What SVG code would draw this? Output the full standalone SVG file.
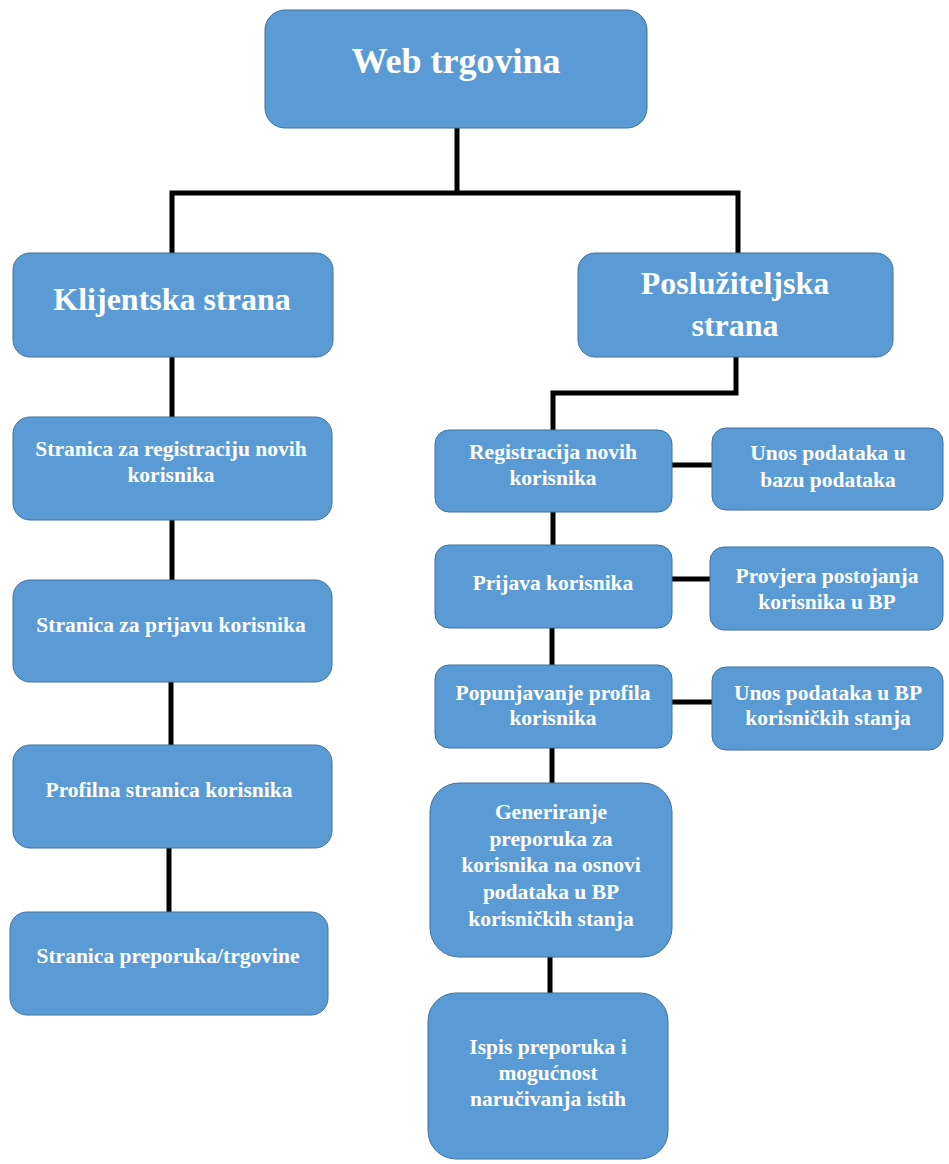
<svg xmlns="http://www.w3.org/2000/svg" width="949" height="1164" viewBox="0 0 949 1164">
<style>
.box{fill:#5B9BD5;stroke:#41719C;stroke-width:1}
.t{font-family:"Liberation Serif","Times New Roman",serif;font-weight:bold;fill:#FFFFFF;text-anchor:middle}
.big{font-size:32px}
.sm{font-size:21.5px}
.ln{stroke:#000;stroke-width:5;fill:none;stroke-linejoin:miter}
</style>
<rect width="949" height="1164" fill="#FFFFFF"/>
<g id="connectors">
<path class="ln" d="M457 128 V193"/>
<path class="ln" d="M172 253 V193 H738 V253"/>
<path class="ln" d="M172 357 V417"/>
<path class="ln" d="M172 520 V580"/>
<path class="ln" d="M171 682 V745"/>
<path class="ln" d="M169 848 V912"/>
<path class="ln" d="M736 357 V393 H553 V430"/>
<path class="ln" d="M672 465 H712"/>
<path class="ln" d="M553 512 V545"/>
<path class="ln" d="M672 579 H710"/>
<path class="ln" d="M552 628 V665"/>
<path class="ln" d="M672 702 H712"/>
<path class="ln" d="M552 748 V783"/>
<path class="ln" d="M550 957 V993"/>
</g>
<g id="web-trgovina">
<rect class="box" x="265" y="10" width="382" height="118" rx="20"/>
<text class="t" x="456" y="73" font-size="36">Web trgovina</text>
</g>
<g id="klijentska-strana">
<rect class="box" x="13" y="253" width="320" height="104" rx="17"/>
<text class="t big" x="172" y="310">Klijentska strana</text>
</g>
<g id="posluziteljska-strana">
<rect class="box" x="578" y="253" width="315" height="104" rx="17"/>
<text class="t big" x="735" y="294">Poslužiteljska</text>
<text class="t big" x="735" y="336">strana</text>
</g>
<g id="stranica-registracija">
<rect class="box" x="13" y="417" width="319" height="103" rx="17"/>
<text class="t sm" x="171" y="456">Stranica za registraciju novih</text>
<text class="t sm" x="171" y="482">korisnika</text>
</g>
<g id="stranica-prijava">
<rect class="box" x="13" y="580" width="319" height="102" rx="17"/>
<text class="t sm" x="171" y="632">Stranica za prijavu korisnika</text>
</g>
<g id="profilna-stranica">
<rect class="box" x="13" y="745" width="319" height="103" rx="17"/>
<text class="t sm" x="169" y="797">Profilna stranica korisnika</text>
</g>
<g id="stranica-preporuka">
<rect class="box" x="10" y="912" width="318" height="103" rx="17"/>
<text class="t sm" x="168" y="963">Stranica preporuka/trgovine</text>
</g>
<g id="registracija">
<rect class="box" x="435" y="430" width="237" height="82" rx="14"/>
<text class="t sm" x="553" y="459">Registracija novih</text>
<text class="t sm" x="553" y="485">korisnika</text>
</g>
<g id="unos-bazu">
<rect class="box" x="712" y="428" width="231" height="82" rx="14"/>
<text class="t sm" x="828" y="460">Unos podataka u</text>
<text class="t sm" x="828" y="487">bazu podataka</text>
</g>
<g id="prijava">
<rect class="box" x="435" y="545" width="237" height="83" rx="14"/>
<text class="t sm" x="553" y="590">Prijava korisnika</text>
</g>
<g id="provjera">
<rect class="box" x="710" y="547" width="233" height="83" rx="14"/>
<text class="t sm" x="827" y="583">Provjera postojanja</text>
<text class="t sm" x="827" y="609">korisnika u BP</text>
</g>
<g id="popunjavanje">
<rect class="box" x="435" y="665" width="237" height="83" rx="14"/>
<text class="t sm" x="553" y="700">Popunjavanje profila</text>
<text class="t sm" x="553" y="725">korisnika</text>
</g>
<g id="unos-bp">
<rect class="box" x="712" y="667" width="231" height="83" rx="14"/>
<text class="t sm" x="828" y="700">Unos podataka u BP</text>
<text class="t sm" x="828" y="725">korisničkih stanja</text>
</g>
<g id="generiranje">
<rect class="box" x="430" y="783" width="242" height="174" rx="29"/>
<text class="t sm" x="551" y="819">Generiranje</text>
<text class="t sm" x="551" y="846">preporuka za</text>
<text class="t sm" x="551" y="872">korisnika na osnovi</text>
<text class="t sm" x="551" y="899">podataka u BP</text>
<text class="t sm" x="551" y="926">korisničkih stanja</text>
</g>
<g id="ispis">
<rect class="box" x="428" y="993" width="240" height="166" rx="28"/>
<text class="t sm" x="548" y="1054">Ispis preporuka i</text>
<text class="t sm" x="548" y="1080">mogućnost</text>
<text class="t sm" x="548" y="1106">naručivanja istih</text>
</g>
</svg>
